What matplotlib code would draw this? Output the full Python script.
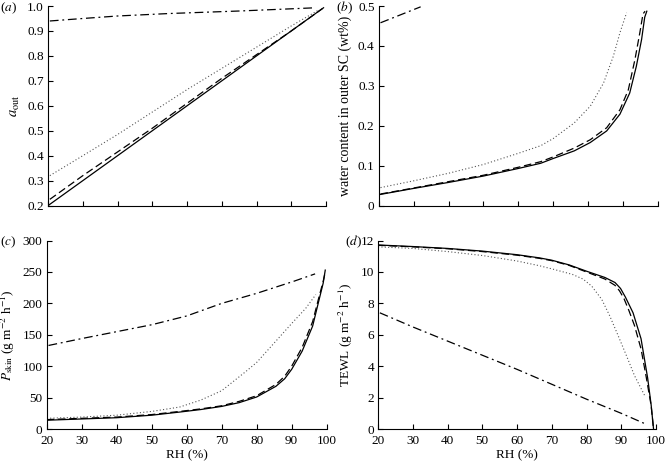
import matplotlib
matplotlib.use("Agg")
import matplotlib.pyplot as plt

plt.rcParams['font.family'] = ['Liberation Serif', 'DejaVu Serif']
plt.rcParams['mathtext.fontset'] = 'stix'
plt.rcParams['font.size'] = 9.5

# (a) a_out vs RH
rh_a = [20, 30, 40, 50, 60, 70, 80, 90, 99.3]
aout_solid = [0.20, 0.30, 0.40, 0.50, 0.60, 0.70, 0.80, 0.90, 0.993]
rh_a_dash = [20.5, 30, 40, 50, 60, 70, 80, 90, 99]
aout_dash = [0.225, 0.32, 0.415, 0.51, 0.61, 0.71, 0.805, 0.90, 0.99]
rh_a_dot = [20.5, 30, 40, 50, 60, 70, 80, 90, 98]
aout_dot = [0.32, 0.40, 0.485, 0.575, 0.665, 0.75, 0.835, 0.92, 0.985]
rh_a_dd = [20.5, 30, 40, 55, 75, 92, 97]
aout_dd = [0.94, 0.95, 0.96, 0.97, 0.98, 0.99, 0.993]

# (b) water content in outer SC
rh_b = [20.5, 30, 40, 50, 60, 66.4, 70, 76, 80.6, 85.3, 89.1, 91.9, 93.8, 95.3, 96.2, 96.8]
wc_solid = [0.028, 0.043, 0.058, 0.074, 0.093, 0.106, 0.118, 0.137, 0.158, 0.187, 0.229,
            0.282, 0.349, 0.416, 0.472, 0.487]
rh_b_dash = [20.5, 30, 40, 50, 60, 66.4, 70, 76, 80.6, 85.3, 89.1, 91.5, 93.4, 94.8, 95.7, 96.3]
wc_dash = [0.029, 0.044, 0.06, 0.076, 0.096, 0.11, 0.122, 0.144, 0.165, 0.195, 0.24,
           0.29, 0.366, 0.433, 0.48, 0.487]
rh_b_dot = [20.5, 30, 40, 50, 60, 66.4, 70, 76, 80.6, 84.4, 87.2, 89.1, 91]
wc_dot = [0.045, 0.062, 0.081, 0.103, 0.131, 0.15, 0.168, 0.207, 0.249, 0.307, 0.374, 0.433, 0.483]
rh_b_dd = [20.5, 32]
wc_dd = [0.458, 0.498]

# (c) P_skin
rh_c = [20, 30, 40, 50, 58, 64, 70, 75, 80, 85.5, 88, 90, 93, 96, 97.8, 99, 99.6]
p_solid = [14, 16, 18, 22, 27, 31, 36, 42, 51, 68, 80, 95, 124, 164, 205, 232, 253]
p_dash = [15, 17, 19, 23, 28, 32, 37, 44, 53, 71, 84, 100, 130, 171, 210, 235, 250]
rh_c_dot = [20, 30, 40, 50, 58, 64, 70, 77, 80, 85.5, 90, 94, 96.9]
p_dot = [17, 19, 22, 28, 35, 46, 61, 92, 106, 140, 168, 192, 214]
rh_c_dd = [20.5, 30, 40, 50, 60, 70, 80, 90.5, 96.7]
p_dd = [133, 144, 155, 166, 180, 200, 216, 235, 247]

# (d) TEWL
rh_d = [20, 30, 40, 50, 60, 66.4, 70, 75, 80, 85.3, 88.2, 89.8, 91.2, 93.4, 95.7, 97.6, 98.6, 99.3]
tewl_solid = [11.72, 11.62, 11.5, 11.33, 11.1, 10.9, 10.75, 10.45, 10.05, 9.65, 9.33, 8.95, 8.4,
              7.4, 5.75, 3.25, 1.55, 0.0]
rh_d_dash = [20, 30, 40, 50, 60, 66.4, 70, 75, 80, 85.3, 88.2, 89.5, 90.8, 92.2, 93.8, 95.7, 97.2, 98.6, 99.3]
tewl_dash = [11.7, 11.6, 11.48, 11.3, 11.07, 10.87, 10.72, 10.42, 10.0, 9.55, 9.15, 8.8, 8.3,
             7.55, 6.6, 5.1, 3.3, 1.5, 0.0]
rh_d_dot = [20, 30, 40, 50, 60, 66.4, 70, 75.9, 79, 81.5, 84.4, 86.7, 89.1, 91.5, 93.8, 96.7]
tewl_dot = [11.6, 11.5, 11.3, 11.05, 10.7, 10.4, 10.2, 9.85, 9.55, 9.1, 8.25, 7.2, 5.95, 4.67,
            3.41, 2.15]
rh_d_dd = [20.5, 30, 40, 50, 60, 70, 80, 90, 96.7]
tewl_dd = [7.4, 6.5, 5.6, 4.7, 3.8, 2.85, 1.9, 1.0, 0.35]

xticks = [20, 30, 40, 50, 60, 70, 80, 90, 100]

fig = plt.figure(figsize=(6.68, 4.63), dpi=100)
ax_a = fig.add_axes([0.072, 0.556, 0.416, 0.431])
ax_b = fig.add_axes([0.567, 0.556, 0.418, 0.431])
ax_c = fig.add_axes([0.070, 0.0734, 0.419, 0.407])
ax_d = fig.add_axes([0.566, 0.0734, 0.416, 0.407])

solid = dict(color='black', lw=0.9, ls='-')
dash = dict(color='black', lw=0.9, ls=(0, (6, 3)))
dot = dict(color='#555555', lw=0.8, ls=(0, (1, 2)))
ddot = dict(color='black', lw=0.9, ls=(0, (7, 3, 1.5, 3)))


def style(ax):
    for s in ['top', 'right']:
        ax.spines[s].set_visible(False)
    ax.spines['left'].set_linewidth(0.8)
    ax.spines['bottom'].set_linewidth(0.8)
    ax.tick_params(direction='in', length=3.5, width=0.8, labelsize=9.5, pad=3)
    ax.tick_params(axis='x', pad=4)
    ax.set_xlim(20, 100)
    ax.set_xticks(xticks)


ax_a.plot(rh_a, aout_solid, **solid)
ax_a.plot(rh_a_dash, aout_dash, **dash)
ax_a.plot(rh_a_dot, aout_dot, **dot)
ax_a.plot(rh_a_dd, aout_dd, **ddot)
style(ax_a)
ax_a.set_ylim(0.2, 1.0)
ax_a.set_yticks([0.2, 0.3, 0.4, 0.5, 0.6, 0.7, 0.8, 0.9, 1.0])
ax_a.set_yticklabels(['0.2', '0.3', '0.4', '0.5', '0.6', '0.7', '0.8', '0.9', '1.0'])
ax_a.set_xticklabels([])
ax_a.set_ylabel(r'$a_{\mathrm{out}}$', fontsize=10.5, labelpad=4)

ax_b.plot(rh_b, wc_solid, **solid)
ax_b.plot(rh_b_dash, wc_dash, **dash)
ax_b.plot(rh_b_dot, wc_dot, **dot)
ax_b.plot(rh_b_dd, wc_dd, **ddot)
style(ax_b)
ax_b.set_ylim(0, 0.5)
ax_b.set_yticks([0, 0.1, 0.2, 0.3, 0.4, 0.5])
ax_b.set_yticklabels(['0', '0.1', '0.2', '0.3', '0.4', '0.5'])
ax_b.set_xticklabels([])
ax_b.set_ylabel('water content in outer SC (wt%)', fontsize=10, labelpad=4)

ax_c.plot(rh_c, p_solid, **solid)
ax_c.plot(rh_c, p_dash, **dash)
ax_c.plot(rh_c_dot, p_dot, **dot)
ax_c.plot(rh_c_dd, p_dd, **ddot)
style(ax_c)
ax_c.set_ylim(0, 300)
ax_c.set_yticks([0, 50, 100, 150, 200, 250, 300])
ax_c.set_xlabel('RH (%)', fontsize=9.5, labelpad=2)
ax_c.set_ylabel(r'$P_{\mathrm{skin}}$ (g m$^{-2}$ h$^{-1}$)', fontsize=9.5, labelpad=4)

ax_d.plot(rh_d, tewl_solid, **solid)
ax_d.plot(rh_d_dash, tewl_dash, **dash)
ax_d.plot(rh_d_dot, tewl_dot, **dot)
ax_d.plot(rh_d_dd, tewl_dd, **ddot)
style(ax_d)
ax_d.set_ylim(0, 12)
ax_d.set_yticks([0, 2, 4, 6, 8, 10, 12])
ax_d.set_xlabel('RH (%)', fontsize=9.5, labelpad=2)
ax_d.set_ylabel(r'TEWL (g m$^{-2}$ h$^{-1}$)', fontsize=9.5, labelpad=4)

# panel letters, placed in pixel coordinates like the original layout
W, H = 668.0, 463.0
for letter, px, py in [('a', 17, 8), ('b', 353, 8), ('c', 16, 242), ('d', 362, 242)]:
    fig.text(px / W, 1 - py / H, '(' + r'$\mathit{' + letter + '}$' + ')',
             fontsize=9.5, ha='right', va='center')

fig.savefig('out.png', dpi=100)
